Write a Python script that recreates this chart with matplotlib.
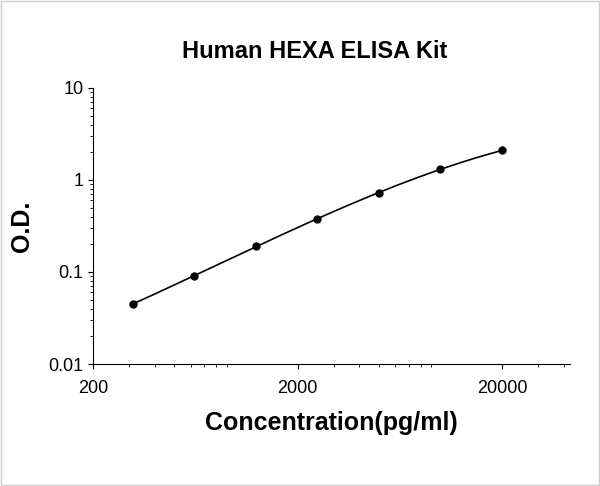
import numpy as np
import matplotlib
matplotlib.use("Agg")
import matplotlib.pyplot as plt
plt.rcParams['font.family'] = ['Liberation Sans', 'DejaVu Sans']

conc = [312.5, 625, 1250, 2500, 5000, 10000, 20000]
od = [0.045, 0.09, 0.19, 0.38, 0.73, 1.3, 2.1]

fig = plt.figure(figsize=(6, 4.86), dpi=100)
ax = fig.add_axes([0.155, 0.251, 0.795, 0.568])
lx, ly = np.log10(conc), np.log10(od)
c = np.polyfit(lx, ly, 3)
xs = np.linspace(lx[0], lx[-1], 200)
ax.plot(10**xs, 10**np.polyval(c, xs), color='black', lw=1.2)
ax.plot(conc, od, 'o', color='black', ms=5)
ax.set_xscale('log'); ax.set_yscale('log')
ax.set_xlim(200, 43000); ax.set_ylim(0.01, 10)
ax.set_xticks([200, 2000, 20000]); ax.set_xticklabels(['200', '2000', '20000'])
ax.set_yticks([0.01, 0.1, 1, 10]); ax.set_yticklabels(['0.01', '0.1', '1', '10'])
for s in ['top', 'right']:
    ax.spines[s].set_visible(False)
ax.tick_params(which='both', direction='out', labelsize=13)
ax.tick_params(axis='x', pad=8)
fig.text(0.525, 0.895, 'Human HEXA ELISA Kit', fontsize=17, fontweight='bold', ha='center', va='center')
ax.set_xlabel('Concentration(pg/ml)', fontsize=18, fontweight='bold', labelpad=10)
ax.set_ylabel('O.D.', fontsize=18, fontweight='bold', labelpad=10)
fig.patches.append(plt.Rectangle((0.002, 0.002), 0.996, 0.996, transform=fig.transFigure,
                                 fill=False, edgecolor='#cccccc', lw=1))
fig.savefig('out.png', dpi=100)
